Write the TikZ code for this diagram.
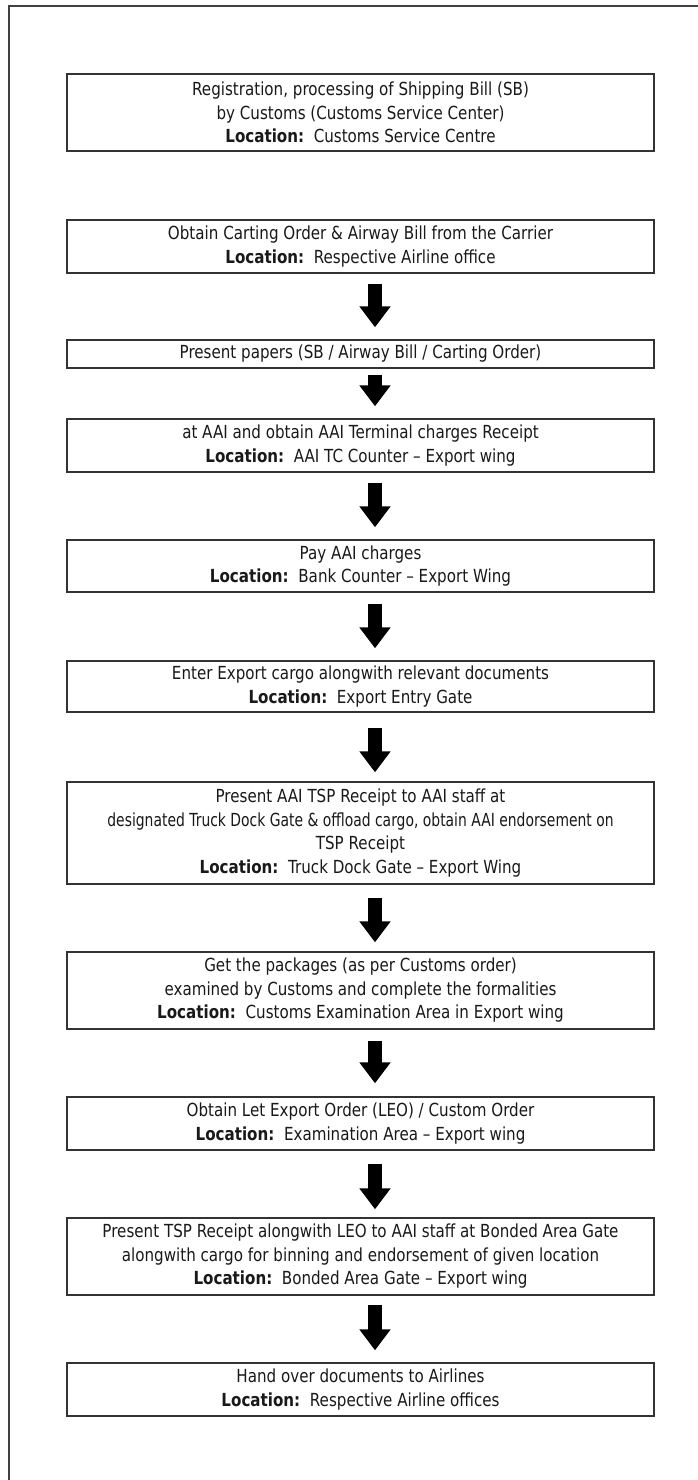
\documentclass[tikz,border=0pt]{standalone}
\usepackage{fontspec}
\setmainfont{DejaVu Sans}[FakeStretch=0.84]
\usetikzlibrary{arrows.meta}
\tikzset{
  stepbox/.style={draw=black!80, line width=1.4pt, fill=white, minimum width=587pt,
    inner sep=0pt, align=center, font=\fontsize{18}{23.5}\selectfont, text=black!90},
  bigarrow/.style={line width=14pt, draw=black,
    -{Triangle[width=30pt,length=21pt]}},
  frame/.style={draw=black!75, line width=1.6pt}
}
\newcommand{\loc}[1]{\textbf{Location:}\ \ #1}
\begin{document}
\begin{tikzpicture}[x=1pt,y=1pt]
\useasboundingbox (0,0) rectangle (698,-1480);
\coordinate (ftl) at (9,-6);
\coordinate (ftr) at (698,-6);
\coordinate (fbl) at (9,-1480);
\draw[frame] (ftr) -- (ftl) -- (fbl);

\node[stepbox, minimum height=77pt] (b1) at (360.5,-112.5) {Registration, processing of Shipping Bill (SB)\\by Customs (Customs Service Center)\\\loc{Customs Service Centre}};
\node[stepbox, minimum height=53pt] (b2) at (360.5,-246.5) {Obtain Carting Order \& Airway Bill from the Carrier\\\loc{Respective Airline office}};
\node[stepbox, minimum height=28pt] (b3) at (360.5,-354) {Present papers (SB / Airway Bill / Carting Order)};
\node[stepbox, minimum height=53pt] (b4) at (360.5,-445.5) {at AAI and obtain AAI Terminal charges Receipt\\\loc{AAI TC Counter -- Export wing}};
\node[stepbox, minimum height=52pt] (b5) at (360.5,-566) {Pay AAI charges\\\loc{Bank Counter -- Export Wing}};
\node[stepbox, minimum height=51pt] (b6) at (360.5,-686.5) {Enter Export cargo alongwith relevant documents\\\loc{Export Entry Gate}};
\node[stepbox, minimum height=102pt] (b7) at (360.5,-833) {Present AAI TSP Receipt to AAI staff at\\\scalebox{0.92}[1]{designated Truck Dock Gate \& offload cargo, obtain AAI endorsement on}\\TSP Receipt\\\loc{Truck Dock Gate -- Export Wing}};
\node[stepbox, minimum height=77pt] (b8) at (360.5,-990.5) {Get the packages (as per Customs order)\\examined by Customs and complete the formalities\\\loc{Customs Examination Area in Export wing}};
\node[stepbox, minimum height=53pt] (b9) at (360.5,-1123.5) {Obtain Let Export Order (LEO) / Custom Order\\\loc{Examination Area -- Export wing}};
\node[stepbox, minimum height=77pt] (b10) at (360.5,-1256.5) {Present TSP Receipt alongwith LEO to AAI staff at Bonded Area Gate\\alongwith cargo for binning and endorsement of given location\\\loc{Bonded Area Gate -- Export wing}};
\node[stepbox, minimum height=53pt] (b11) at (360.5,-1389.5) {Hand over documents to Airlines\\\loc{Respective Airline offices}};

\draw[bigarrow, shorten <=10pt, shorten >=12pt] ([xshift=14.5pt]b2.south) -- ([xshift=14.5pt]b3.north);
\draw[bigarrow, shorten <=6pt, shorten >=12pt] ([xshift=14.5pt]b3.south) -- ([xshift=14.5pt]b4.north);
\draw[bigarrow, shorten <=10pt, shorten >=12pt] ([xshift=14.5pt]b4.south) -- ([xshift=14.5pt]b5.north);
\draw[bigarrow, shorten <=11pt, shorten >=12pt] ([xshift=14.5pt]b5.south) -- ([xshift=14.5pt]b6.north);
\draw[bigarrow, shorten <=15pt, shorten >=9pt] ([xshift=14.5pt]b6.south) -- ([xshift=14.5pt]b7.north);
\draw[bigarrow, shorten <=13pt, shorten >=9pt] ([xshift=14.5pt]b7.south) -- ([xshift=14.5pt]b8.north);
\draw[bigarrow, shorten <=11pt, shorten >=13pt] ([xshift=14.5pt]b8.south) -- ([xshift=14.5pt]b9.north);
\draw[bigarrow, shorten <=13pt, shorten >=8pt] ([xshift=14.5pt]b9.south) -- ([xshift=14.5pt]b10.north);
\draw[bigarrow, shorten <=9pt, shorten >=12pt] ([xshift=14.5pt]b10.south) -- ([xshift=14.5pt]b11.north);
\end{tikzpicture}
\end{document}
